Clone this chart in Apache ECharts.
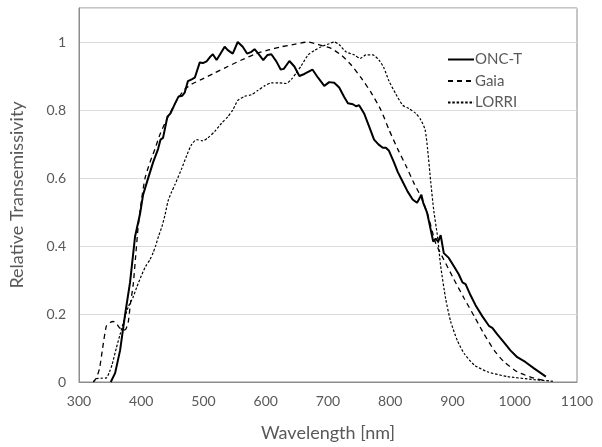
<!DOCTYPE html>
<html>
<head>
<meta charset="utf-8">
<script src="https://cdn.jsdelivr.net/npm/echarts@6/dist/echarts.min.js"></script>
<style>html,body{margin:0;padding:0;background:#fff;}#c{width:602px;height:447px;}</style>
</head>
<body>
<div id="c"></div>
<script>
const xTicks = [300, 400, 500, 600, 700, 800, 900, 1000, 1100];
const yTicks = [0, 0.2, 0.4, 0.6, 0.8, 1];
const seriesNames = ['ONC-T', 'Gaia', 'LORRI'];

const oncT = [[351,0],[358,0.026],[366,0.093],[374,0.198],[382,0.293],[390,0.427],[398,0.494],[403,0.551],[411,0.599],[419,0.646],[427,0.685],[431,0.713],[435,0.718],[442,0.78],[447,0.79],[454,0.818],[460,0.84],[466,0.842],[470,0.852],[475,0.885],[481,0.89],[486,0.895],[494,0.94],[499,0.938],[505,0.943],[511,0.957],[515,0.964],[521,0.947],[526,0.962],[534,0.986],[539,0.976],[547,0.966],[555,1.0],[563,0.986],[570,0.966],[577,0.971],[582,0.979],[588,0.966],[596,0.947],[603,0.962],[609,0.964],[617,0.943],[624,0.919],[629,0.921],[638,0.944],[646,0.928],[654,0.9],[662,0.906],[675,0.919],[684,0.895],[694,0.871],[702,0.882],[710,0.88],[718,0.866],[726,0.838],[732,0.82],[740,0.817],[745,0.811],[750,0.814],[758,0.79],[766,0.752],[774,0.713],[781,0.699],[788,0.689],[793,0.689],[798,0.68],[806,0.646],[812,0.618],[820,0.589],[828,0.56],[836,0.537],[843,0.527],[846,0.537],[850,0.551],[853,0.527],[859,0.499],[862,0.474],[869,0.413],[873,0.422],[877,0.413],[881,0.432],[886,0.379],[894,0.365],[902,0.341],[910,0.317],[916,0.293],[921,0.288],[929,0.255],[937,0.226],[948,0.193],[959,0.164],[964,0.159],[972,0.14],[983,0.116],[993,0.093],[1004,0.073],[1017,0.059],[1031,0.04],[1050,0.016]];

const gaia = [[323,0],[328,0.012],[333,0.04],[338,0.1],[344,0.165],[350,0.175],[355,0.178],[360,0.172],[365,0.16],[370,0.152],[375,0.155],[379,0.175],[383,0.236],[387,0.284],[391,0.37],[395,0.456],[400,0.53],[406,0.599],[414,0.646],[422,0.685],[430,0.728],[438,0.761],[446,0.79],[457,0.828],[470,0.861],[481,0.876],[497,0.89],[518,0.909],[539,0.928],[561,0.947],[582,0.964],[603,0.976],[625,0.986],[646,0.993],[668,1.0],[689,0.99],[705,0.981],[721,0.962],[737,0.933],[753,0.895],[769,0.852],[785,0.8],[798,0.742],[812,0.685],[825,0.637],[838,0.585],[849,0.546],[860,0.494],[873,0.408],[886,0.36],[902,0.303],[919,0.245],[935,0.193],[951,0.14],[967,0.093],[983,0.059],[1004,0.03],[1031,0.011],[1047,0.005]];

const lorri = [[323,0],[328,0.01],[335,0.011],[344,0.012],[349,0.03],[353,0.05],[360,0.1],[366,0.14],[372,0.18],[379,0.22],[387,0.25],[393,0.28],[400,0.312],[407,0.34],[414,0.36],[419,0.38],[423,0.4],[428,0.43],[433,0.456],[438,0.49],[443,0.532],[449,0.56],[454,0.58],[465,0.628],[473,0.666],[481,0.699],[489,0.713],[499,0.709],[507,0.718],[518,0.737],[529,0.761],[539,0.78],[547,0.8],[555,0.828],[566,0.84],[577,0.845],[587,0.857],[598,0.871],[609,0.88],[620,0.88],[633,0.878],[641,0.89],[649,0.909],[657,0.93],[668,0.962],[678,0.975],[689,0.986],[702,0.995],[710,1.0],[718,0.992],[729,0.971],[742,0.962],[752,0.952],[761,0.962],[772,0.962],[782,0.947],[790,0.923],[798,0.885],[809,0.847],[820,0.814],[830,0.804],[841,0.79],[849,0.771],[856,0.742],[860,0.685],[865,0.589],[870,0.503],[876,0.427],[881,0.341],[889,0.245],[897,0.178],[908,0.121],[919,0.083],[935,0.05],[956,0.03],[988,0.016],[1031,0.007],[1063,0.002]];

const FONT = 'Lato, "Open Sans", sans-serif';
const TXT = '#595959';
const chart = echarts.init(document.getElementById('c'), null, {renderer: 'canvas'});
chart.setOption({
  animation: false,
  backgroundColor: '#fff',
  textStyle: {fontFamily: FONT},
  grid: {left: 77, right: 25, top: 8, bottom: 55, show: true, borderColor: '#8c8c8c', borderWidth: 1},
  legend: {
    orient: 'vertical', left: 447, top: 52, padding: 0,
    itemWidth: 26, itemHeight: 14, itemGap: 6.5,
    itemStyle: {opacity: 0},
    textStyle: {fontFamily: FONT, fontSize: 15, color: TXT, padding: [0,0,0,-4]},
    data: seriesNames
  },
  xAxis: {
    type: 'value', min: xTicks[0], max: xTicks[xTicks.length-1], interval: 100,
    name: 'Wavelength [nm]', nameLocation: 'middle', nameGap: 42,
    nameTextStyle: {fontFamily: FONT, fontSize: 18, color: TXT},
    axisLine: {show: true, lineStyle: {color: '#8c8c8c', width: 1}},
    axisTick: {show: false},
    splitLine: {show: false},
    axisLabel: {fontFamily: FONT, fontSize: 14, color: TXT, margin: 12,
      formatter: v => xTicks.includes(v) ? String(v) : ''}
  },
  yAxis: {
    type: 'value', min: 0, max: 1.1, interval: 0.2,
    name: 'Relative Transemissivity', nameLocation: 'middle', nameGap: 53,
    nameTextStyle: {fontFamily: FONT, fontSize: 18, color: TXT},
    axisLine: {show: true, lineStyle: {color: '#8c8c8c', width: 1}},
    axisTick: {show: false},
    splitLine: {show: true, lineStyle: {color: '#dcdcdc', width: 1}},
    axisLabel: {fontFamily: FONT, fontSize: 14, color: TXT, margin: 13,
      formatter: v => { const t = yTicks.find(y => Math.abs(y - v) < 1e-6); return t === undefined ? '' : String(t); }}
  },
  series: [
    {name: seriesNames[0], type: 'line', data: oncT, symbol: 'none', smooth: false,
      lineStyle: {color: '#000', width: 2, type: 'solid'}, itemStyle: {color: '#000'}},
    {name: seriesNames[1], type: 'line', data: gaia, symbol: 'none', smooth: 0.2,
      lineStyle: {color: '#000', width: 1.3, type: [5, 4]}, itemStyle: {color: '#000'}},
    {name: seriesNames[2], type: 'line', data: lorri, symbol: 'none', smooth: 0.2,
      lineStyle: {color: '#000', width: 1.2, type: [2.5, 1.8]}, itemStyle: {color: '#000'}}
  ]
});
</script>
</body>
</html>
